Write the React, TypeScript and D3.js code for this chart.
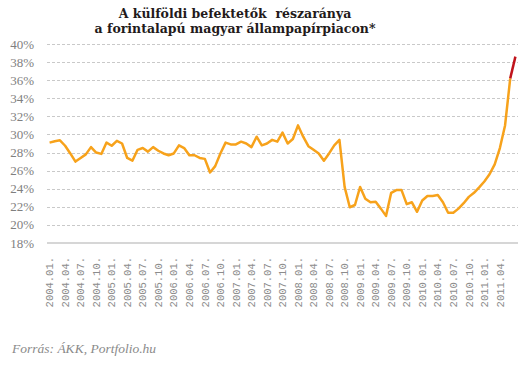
import { useEffect, useRef } from "react";
import * as d3 from "d3";

const titleLines = ["A külföldi befektetők  részaránya", "a forintalapú magyar állampapírpiacon*"];
const source = "Forrás: ÁKK, Portfolio.hu";

const startYear = 2004;
// monthly share of foreign investors, %, 2004.01 - 2011.07
const shares = [
  29.1, 29.25, 29.35, 28.75, 27.9, 27.0, 27.4, 27.8, 28.6, 28.0,
  27.85, 29.1, 28.75, 29.3, 29.0, 27.4, 27.1, 28.3, 28.5, 28.1,
  28.6, 28.2, 27.9, 27.7, 27.9, 28.8, 28.5, 27.7, 27.7, 27.4,
  27.3, 25.8, 26.5, 27.9, 29.1, 28.9, 28.9, 29.2, 29.0, 28.6,
  29.75, 28.8, 29.0, 29.4, 29.2, 30.2, 29.0, 29.5, 31.0, 29.75,
  28.7, 28.3, 27.9, 27.1, 27.9, 28.8, 29.4, 24.2, 21.95, 22.2,
  24.2, 22.9, 22.5, 22.55, 21.8, 21.0, 23.55, 23.85, 23.85, 22.3,
  22.5, 21.45, 22.7, 23.2, 23.2, 23.3, 22.5, 21.35, 21.35, 21.8,
  22.4, 23.1, 23.55, 24.15, 24.8, 25.6, 26.7, 28.5, 31.0, 36.2,
  38.6,
];
const highlightFrom = 89; // last segment drawn in red
const yTicks = [18, 20, 22, 24, 26, 28, 30, 32, 34, 36, 38, 40];
const lastLabel = "2011.04.";

const months = shares.map((_, i) => {
  const y = startYear + Math.floor(i / 12);
  const m = (i % 12) + 1;
  return `${y}.${m < 10 ? "0" + m : m}.`;
});

export default function App() {
  const ref = useRef<SVGSVGElement>(null);

  useEffect(() => {
    document.body.style.margin = "0";
    const width = 531;
    const height = 370;
    const margin = { top: 44, right: 13, bottom: 127, left: 47 };

    const svg = d3.select(ref.current!);
    svg.selectAll("*").remove();
    svg.attr("width", width).attr("height", height).style("background", "#fff");

    const x = d3
      .scalePoint<string>()
      .domain(months)
      .range([margin.left, width - margin.right])
      .padding(0.5);

    const y = d3
      .scaleLinear()
      .domain([18, 40])
      .range([height - margin.bottom, margin.top]);

    // title
    const title = svg
      .append("text")
      .attr("text-anchor", "middle")
      .attr("font-family", "'DejaVu Serif', serif")
      .attr("font-weight", "bold")
      .attr("font-size", 12.5)
      .attr("fill", "#231a1a")
      .style("white-space", "pre");
    titleLines.forEach((t, i) =>
      title
        .append("tspan")
        .attr("x", 235)
        .attr("y", 18 + i * 15)
        .text(t)
    );

    // grid
    svg
      .append("g")
      .selectAll("line")
      .data(yTicks.filter((d) => d > 18))
      .join("line")
      .attr("x1", margin.left)
      .attr("x2", width - margin.right)
      .attr("y1", (d) => Math.round(y(d)) + 0.5)
      .attr("y2", (d) => Math.round(y(d)) + 0.5)
      .attr("stroke", "#c9c9c9")
      .attr("stroke-dasharray", "3,2");

    svg
      .append("line")
      .attr("x1", margin.left)
      .attr("x2", width - margin.right)
      .attr("y1", y(18))
      .attr("y2", y(18))
      .attr("stroke", "#d6d6d6")
      .attr("stroke-width", 2);

    // y labels
    svg
      .append("g")
      .selectAll("text")
      .data(yTicks)
      .join("text")
      .attr("x", 34)
      .attr("y", (d) => y(d))
      .attr("dy", "0.35em")
      .attr("text-anchor", "end")
      .attr("font-family", "'Liberation Serif', serif")
      .attr("font-size", 13)
      .attr("fill", "#7f7f7f")
      .text((d) => `${d}%`);

    // x labels, every quarter up to 2011.04.
    const lastIdx = months.indexOf(lastLabel);
    svg
      .append("g")
      .selectAll("text")
      .data(months.filter((_, i) => i % 3 === 0 && i <= lastIdx))
      .join("text")
      .attr("transform", (d) => `translate(${x(d)},257) rotate(-90)`)
      .attr("dy", "0.35em")
      .attr("text-anchor", "end")
      .attr("font-family", "'Liberation Mono', monospace")
      .attr("font-size", 10.5)
      .attr("fill", "#8c8c8c")
      .text((d) => d);

    const line = d3
      .line<number>()
      .x((_, i) => x(months[i])!)
      .y((d) => y(d));

    svg
      .append("path")
      .datum(shares.slice(0, highlightFrom + 1))
      .attr("d", line)
      .attr("fill", "none")
      .attr("stroke", "#f7a21b")
      .attr("stroke-width", 2.5)
      .attr("stroke-linejoin", "round");

    const lineRed = d3
      .line<number>()
      .x((_, i) => x(months[i + highlightFrom])!)
      .y((d) => y(d));

    svg
      .append("path")
      .datum(shares.slice(highlightFrom))
      .attr("d", lineRed)
      .attr("fill", "none")
      .attr("stroke", "#c0141c")
      .attr("stroke-width", 2.5);

    // source
    svg
      .append("text")
      .attr("x", 12)
      .attr("y", 353)
      .attr("font-family", "'Liberation Serif', serif")
      .attr("font-style", "italic")
      .attr("font-size", 13.5)
      .attr("fill", "#8a8a8a")
      .text(source);
  }, []);

  return <svg ref={ref} style={{ display: "block" }} />;
}
